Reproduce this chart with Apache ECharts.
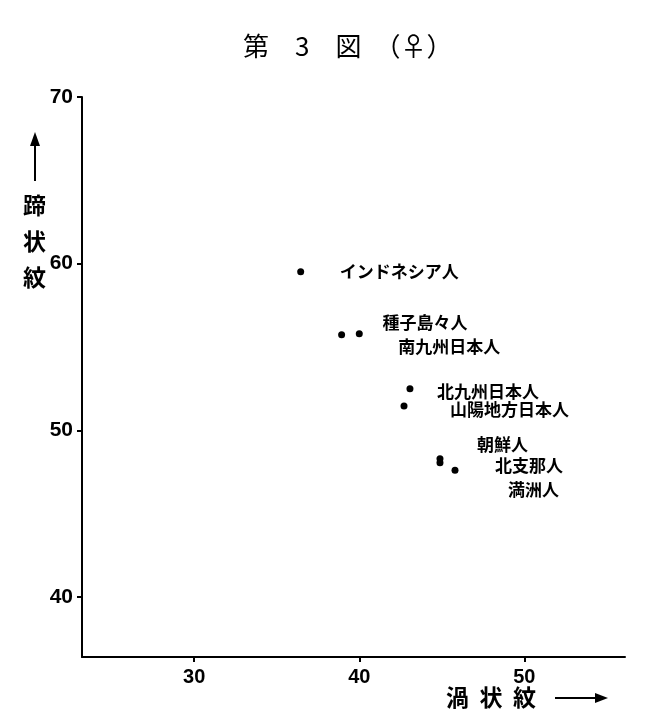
<!DOCTYPE html>
<html>
<head>
<meta charset="utf-8">
<script src="https://cdn.jsdelivr.net/npm/echarts@6/dist/echarts.min.js"></script>
<style>
html,body{margin:0;padding:0;background:#fff;}
#main{width:651px;height:725px;}
</style>
</head>
<body>
<div id="main"></div>
<script>
// ---- data ----
var groups = ['インドネシア人', '種子島々人', '南九州日本人', '北九州日本人', '山陽地方日本人', '朝鮮人', '北支那人', '満洲人'];
var whorl  = [36.45, 38.93, 40.0, 43.07, 42.71, 44.89, 44.89, 45.80];   // 渦状紋 (x)
var loop   = [59.52, 55.73, 55.79, 52.50, 51.46, 48.30, 48.05, 47.60];   // 蹄状紋 (y)
var xTicks = [30, 40, 50];
var yTicks = [40, 50, 60, 70];

// ---- label placement (style only) ----
var labelOffset = {
  'インドネシア人': [39, 0],
  '種子島々人': [41, -12],
  '南九州日本人': [39, 13],
  '北九州日本人': [27, 3],
  '山陽地方日本人': [46, 4],
  '朝鮮人': [37, -14],
  '北支那人': [55, 3],
  '満洲人': [53, 19]
};

var pts = groups.map(function (g, i) {
  return {
    name: g,
    value: [whorl[i], loop[i]],
    label: { offset: labelOffset[g] }
  };
});

var chart = echarts.init(document.getElementById('main'), null, { renderer: 'canvas' });
var cjk = '"Noto Sans CJK JP", "Noto Sans", sans-serif';

chart.setOption({
  backgroundColor: '#fff',
  animation: false,
  title: {
    text: '第　3　図　（♀）',
    left: 238,
    top: 28,
    textStyle: { fontFamily: cjk, fontSize: 26, fontWeight: 'normal', color: '#000' }
  },
  grid: { left: 82, right: 26, top: 97, bottom: 68, containLabel: false },
  xAxis: {
    type: 'value',
    min: 23.2,
    max: 56.1,
    axisLine: { show: true, lineStyle: { color: '#000', width: 2 } },
    axisTick: { show: true, length: 5, lineStyle: { color: '#000', width: 2 }, customValues: xTicks },
    axisLabel: {
      customValues: xTicks,
      margin: 10,
      fontSize: 20,
      fontWeight: 'bold',
      fontFamily: 'Liberation Sans, Arial, sans-serif',
      color: '#000'
    },
    splitLine: { show: false }
  },
  yAxis: {
    type: 'value',
    min: 36.4,
    max: 70,
    axisLine: { show: true, lineStyle: { color: '#000', width: 2 } },
    axisTick: { show: true, length: 5, lineStyle: { color: '#000', width: 2 }, customValues: yTicks },
    axisLabel: {
      customValues: yTicks,
      margin: 9,
      fontSize: 21,
      fontWeight: 'bold',
      fontFamily: 'Liberation Sans, Arial, sans-serif',
      color: '#000'
    },
    splitLine: { show: false }
  },
  graphic: [
    // y-axis name with upward arrow
    { type: 'line', shape: { x1: 35, y1: 181, x2: 35, y2: 142 }, style: { stroke: '#000', lineWidth: 2 } },
    { type: 'polygon', shape: { points: [[35, 132], [30, 146], [40, 146]] }, style: { fill: '#000' } },
    { type: 'text', left: 23, top: 187, style: { text: '蹄\n状\n紋', font: 'bold 23px ' + cjk, lineHeight: 36, fill: '#000' } },
    // x-axis name with right arrow
    { type: 'text', left: 446, top: 686, style: { text: '渦  状  紋', font: 'bold 23px ' + cjk, fill: '#000' } },
    { type: 'line', shape: { x1: 555, y1: 698, x2: 598, y2: 698 }, style: { stroke: '#000', lineWidth: 2 } },
    { type: 'polygon', shape: { points: [[608, 698], [595, 693], [595, 703]] }, style: { fill: '#000' } }
  ],
  series: [{
    type: 'scatter',
    symbol: 'circle',
    symbolSize: 7,
    itemStyle: { color: '#000', opacity: 1 },
    data: pts,
    label: {
      show: true,
      position: 'inside',
      align: 'left',
      verticalAlign: 'middle',
      formatter: '{b}',
      fontFamily: cjk,
      fontSize: 17,
      fontWeight: 'bold',
      color: '#000'
    },
    emphasis: { disabled: true }
  }]
});
</script>
</body>
</html>
